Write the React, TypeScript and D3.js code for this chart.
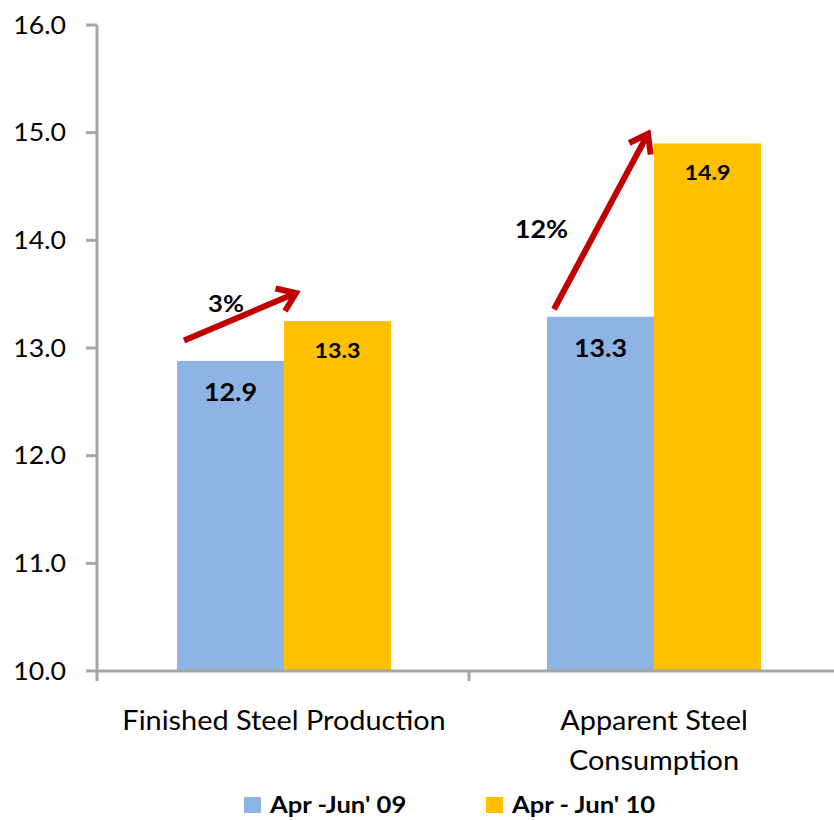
import React from "react";
import * as d3 from "d3";

// Volumes (million tonnes) for the two quarters compared
const categories = ["Finished Steel Production", "Apparent Steel Consumption"];
const categoryLines = [["Finished Steel Production"], ["Apparent Steel", "Consumption"]];
const seriesNames = ["Apr -Jun' 09", "Apr - Jun' 10"];
const q1FY10 = [12.88, 13.29];
const q1FY11 = [13.25, 14.9];
const growthLabels = ["3%", "12%"];
const yTicks = [10, 11, 12, 13, 14, 15, 16];

const W = 834;
const H = 820;
const BLUE = "#8EB4E3";
const ORANGE = "#FFC000";
const AXIS = "#A6A6A6";
const RED = "#C00000";
const FONT = "Lato, 'Open Sans', sans-serif";
const STRETCH = 1.09;

type TProps = {
  x: number;
  y: number;
  size: number;
  bold?: boolean;
  anchor?: "start" | "middle" | "end";
  children: React.ReactNode;
};

// Text drawn slightly wide, like the chart's original typeface
function T({ x, y, size, bold, anchor = "start", children }: TProps) {
  return (
    <text
      transform={`translate(${x},${y}) scale(${STRETCH},1)`}
      textAnchor={anchor}
      fontSize={size}
      fontWeight={bold ? "bold" : "normal"}
      fill="#000"
    >
      {children}
    </text>
  );
}

export default function App() {
  const y = d3.scaleLinear().domain([10, 16]).range([671, 25]);
  const x0 = d3.scaleBand<string>().domain(categories).range([99, 839]);
  const bw = x0.bandwidth();
  const x1 = d3
    .scaleBand<number>()
    .domain([0, 1])
    .range([bw / 2 - 107, bw / 2 + 107]);

  const series = [q1FY10, q1FY11];
  const colors = [BLUE, ORANGE];

  // growth arrows: start at the earlier bar, rise towards the later one
  const arrows = categories.map((c, i) => {
    const cx = (x0(c) as number) + bw / 2;
    const from = series[0][i];
    const to = series[1][i];
    const sx = cx - 100;
    const sy = y(from + (i === 0 ? 0.19 : 0.07));
    const ex = cx + (i === 0 ? 12 : -6);
    const ey = y(to + (i === 0 ? 0.26 : 0.09));
    return { sx, sy, ex, ey, label: growthLabels[i], i };
  });

  const head = (a: { sx: number; sy: number; ex: number; ey: number }) => {
    const ang = Math.atan2(a.ey - a.sy, a.ex - a.sx);
    const L = 21;
    const spread = 0.62;
    const p1 = [a.ex - L * Math.cos(ang - spread), a.ey - L * Math.sin(ang - spread)];
    const p2 = [a.ex - L * Math.cos(ang + spread), a.ey - L * Math.sin(ang + spread)];
    return `M${p1[0]},${p1[1]} L${a.ex},${a.ey} L${p2[0]},${p2[1]}`;
  };

  return (
    <svg
      width={W}
      height={H}
      style={{ position: "absolute", left: 0, top: 0, background: "#fff" }}
      fontFamily={FONT}
    >
      {/* bars */}
      {categories.map((c, i) =>
        series.map((s, k) => {
          const bx = (x0(c) as number) + (x1(k) as number);
          const by = y(s[i]);
          return (
            <g key={`${c}-${k}`}>
              <rect x={bx} y={by} width={x1.bandwidth()} height={y(10) - by} fill={colors[k]} />
              <T
                x={bx + x1.bandwidth() / 2}
                y={by + (k === 0 ? 40 : 37)}
                anchor="middle"
                bold
                size={k === 0 ? 24.7 : 21.3}
              >
                {s[i].toFixed(1)}
              </T>
            </g>
          );
        })
      )}

      {/* y axis */}
      <line x1={97} x2={97} y1={y(16)} y2={y(10) + 10} stroke={AXIS} strokeWidth={3} />
      {yTicks.map((t) => (
        <g key={t}>
          <line x1={86} x2={97} y1={y(t)} y2={y(t)} stroke={AXIS} strokeWidth={3} />
          <T x={66} y={y(t) + 8.5} anchor="end" size={24.5}>
            {t.toFixed(1)}
          </T>
        </g>
      ))}

      {/* x axis */}
      <line x1={96} x2={W} y1={y(10)} y2={y(10)} stroke={AXIS} strokeWidth={3} />
      {categories.slice(1).map((c) => (
        <line
          key={c}
          x1={x0(c) as number}
          x2={x0(c) as number}
          y1={y(10)}
          y2={y(10) + 10}
          stroke={AXIS}
          strokeWidth={3}
        />
      ))}
      {categories.map((c, i) =>
        categoryLines[i].map((ln, j) => (
          <T key={`${c}-${j}`} x={(x0(c) as number) + bw / 2} y={730 + j * 40} anchor="middle" size={26.5}>
            {ln}
          </T>
        ))
      )}

      {/* growth arrows */}
      {arrows.map((a) => (
        <g key={a.label}>
          <line x1={a.sx} y1={a.sy} x2={a.ex} y2={a.ey} stroke={RED} strokeWidth={6} />
          <path d={head(a)} fill="none" stroke={RED} strokeWidth={6} strokeLinejoin="miter" />
          <T
            x={a.i === 0 ? 226 : 541.5}
            y={a.i === 0 ? 311.5 : 237.5}
            anchor="middle"
            bold
            size={a.i === 0 ? 23.5 : 24.7}
          >
            {a.label}
          </T>
        </g>
      ))}

      {/* legend */}
      {seriesNames.map((n, k) => {
        const lx = k === 0 ? 244 : 486;
        return (
          <g key={n}>
            <rect x={lx} y={797} width={17} height={16} fill={colors[k]} />
            <T x={lx + 26} y={813} bold size={23.5}>
              {n}
            </T>
          </g>
        );
      })}
    </svg>
  );
}
